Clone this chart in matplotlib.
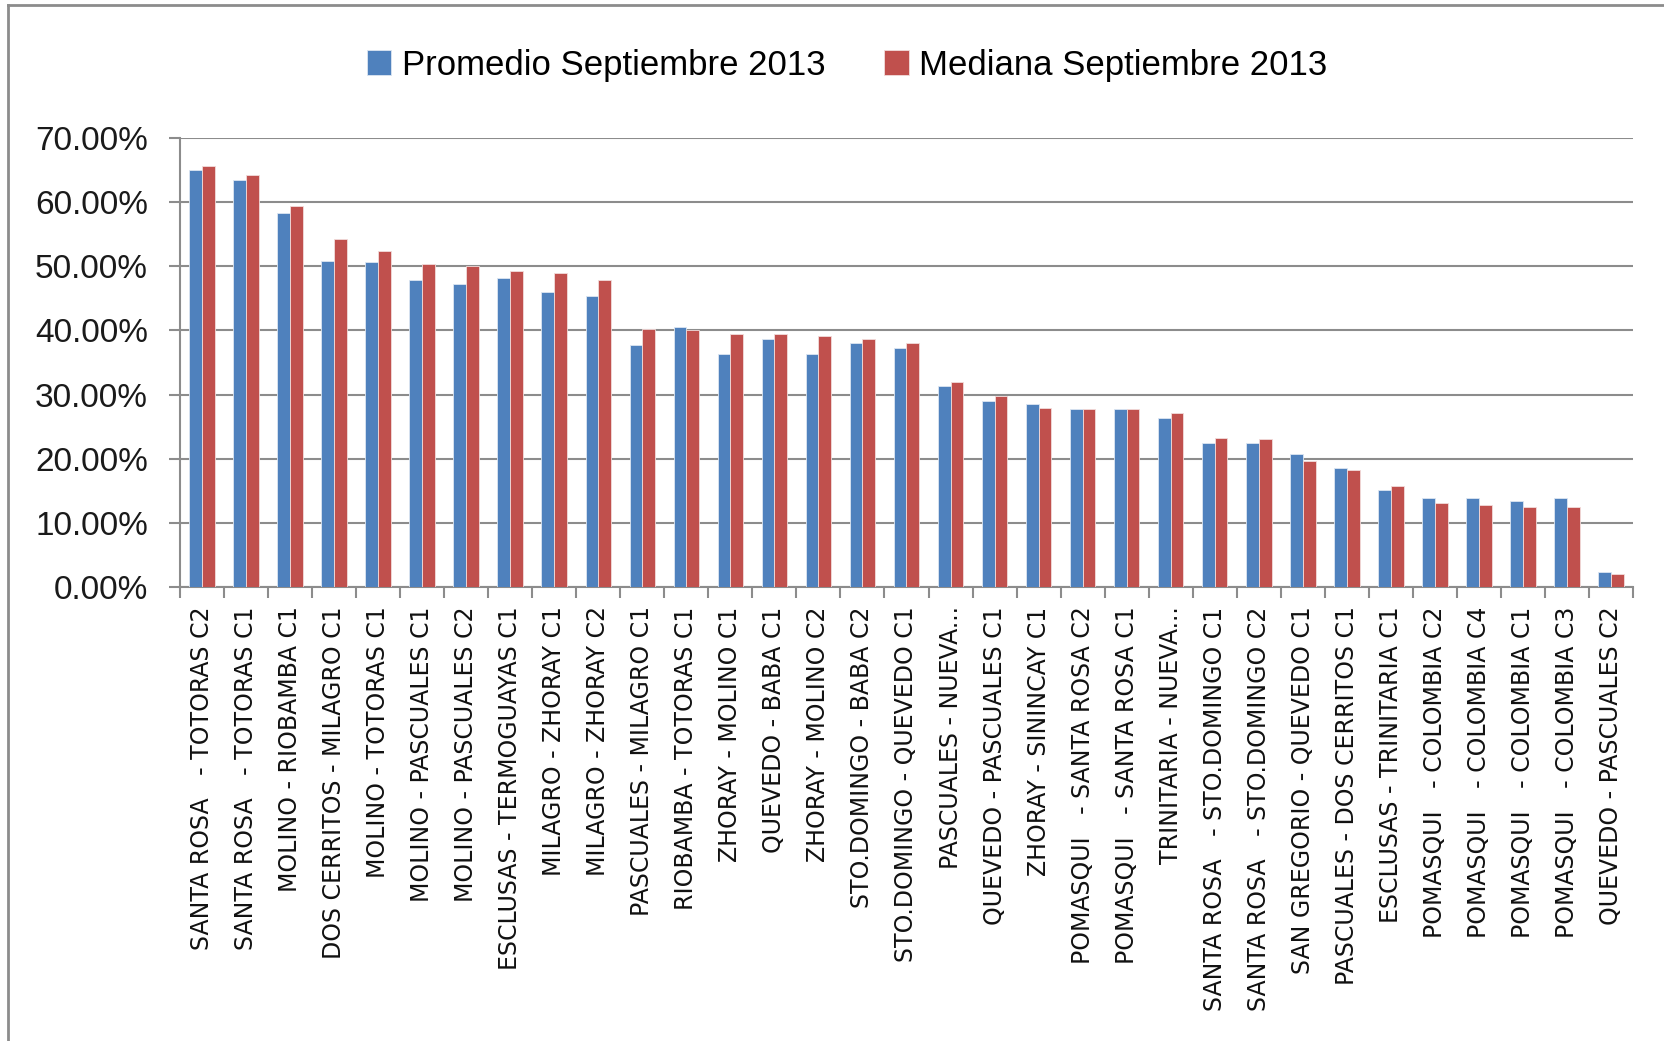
import matplotlib
matplotlib.use("Agg")
import matplotlib.pyplot as plt
import numpy as np
from matplotlib.lines import Line2D
from matplotlib.ticker import FuncFormatter, FixedLocator

categories = [
    "SANTA ROSA   - TOTORAS C2", "SANTA ROSA   - TOTORAS C1", "MOLINO - RIOBAMBA C1",
    "DOS CERRITOS - MILAGRO C1", "MOLINO - TOTORAS C1", "MOLINO - PASCUALES C1",
    "MOLINO - PASCUALES C2", "ESCLUSAS - TERMOGUAYAS C1", "MILAGRO - ZHORAY C1",
    "MILAGRO - ZHORAY C2", "PASCUALES - MILAGRO C1", "RIOBAMBA - TOTORAS C1",
    "ZHORAY - MOLINO C1", "QUEVEDO - BABA C1", "ZHORAY - MOLINO C2",
    "STO.DOMINGO - BABA C2", "STO.DOMINGO - QUEVEDO C1", "PASCUALES - NUEVA...",
    "QUEVEDO - PASCUALES C1", "ZHORAY - SININCAY C1", "POMASQUI   - SANTA ROSA C2",
    "POMASQUI   - SANTA ROSA C1", "TRINITARIA - NUEVA...", "SANTA ROSA   - STO.DOMINGO C1",
    "SANTA ROSA   - STO.DOMINGO C2", "SAN GREGORIO - QUEVEDO C1", "PASCUALES - DOS CERRITOS C1",
    "ESCLUSAS - TRINITARIA C1", "POMASQUI   - COLOMBIA C2", "POMASQUI   - COLOMBIA C4",
    "POMASQUI   - COLOMBIA C1", "POMASQUI   - COLOMBIA C3", "QUEVEDO - PASCUALES C2",
]
promedio = [65.0, 63.4, 58.3, 50.9, 50.6, 47.8, 47.3, 48.2, 46.0, 45.4,
            37.8, 40.5, 36.3, 38.7, 36.3, 38.0, 37.2, 31.3, 29.0, 28.5,
            27.7, 27.8, 26.4, 22.4, 22.4, 20.7, 18.5, 15.1, 13.9, 13.9,
            13.4, 13.9, 2.3]
mediana = [65.6, 64.2, 59.4, 54.3, 52.4, 50.3, 50.0, 49.2, 48.9, 47.8,
           40.3, 40.0, 39.4, 39.4, 39.1, 38.6, 38.0, 31.9, 29.7, 27.9,
           27.7, 27.8, 27.2, 23.2, 23.0, 19.6, 18.2, 15.7, 13.1, 12.8,
           12.5, 12.5, 2.0]
yticks = [0, 10, 20, 30, 40, 50, 60, 70]
series_names = ["Promedio Septiembre 2013", "Mediana Septiembre 2013"]

W, H = 1665, 1041
fig = plt.figure(figsize=(W / 100, H / 100), dpi=100)
L, R, T, B = 180, 1633, 138, 587
ax = fig.add_axes([L / W, 1 - B / H, (R - L) / W, (B - T) / H])

n = len(categories)
x = np.arange(n)
bw = 0.29
blue = "#4F81BD"
red = "#C0504D"
b1 = ax.bar(x - bw / 2, promedio, bw, color=blue, edgecolor="#DCE6F2", linewidth=0.6, zorder=3)
b2 = ax.bar(x + bw / 2, mediana, bw, color=red, edgecolor="#F2DCDB", linewidth=0.6, zorder=3)

ax.set_xlim(-0.5, n - 0.5)
ax.set_ylim(0, 70)
ax.set_yticks(yticks)
ax.yaxis.set_major_formatter(FuncFormatter(lambda v, p: f"{v:.2f}%"))
ax.grid(axis="y", color="#8C8C8C", linewidth=1.5, zorder=0)
for s in ["top", "right"]:
    ax.spines[s].set_visible(False)
for s in ["left", "bottom"]:
    ax.spines[s].set_color("#8C8C8C")
    ax.spines[s].set_linewidth(1.5)

ax.set_xticks(x)
ax.set_xticklabels(categories, rotation=90, va="top")
for lab in ax.get_xticklabels():
    lab.set_fontfamily("DejaVu Sans")
    lab.set_fontsize(17)
    lab.set_color("#111111")
ax.xaxis.set_minor_locator(FixedLocator(np.arange(-0.5, n, 1.0)))
ax.tick_params(axis="x", which="major", length=0, pad=14)
ax.tick_params(axis="x", which="minor", length=8, width=1.5, color="#8C8C8C", direction="out")
ax.tick_params(axis="y", length=8, width=1.5, color="#8C8C8C", direction="out", pad=15)
for lab in ax.get_yticklabels():
    lab.set_fontsize(24)
    lab.set_fontfamily("Liberation Sans")
    lab.set_color("#1A1A1A")

leg = fig.legend([b1, b2], series_names, loc="center", bbox_to_anchor=(847 / W, 1 - 65 / H),
                 ncol=2, frameon=False, prop={"family": "Liberation Sans", "size": 25},
                 handlelength=0.7, handleheight=0.7, handletextpad=0.3, columnspacing=1.7)

# outer chart border (left and top visible)
fig.add_artist(Line2D([8 / W, 8 / W], [0, 1 - 5 / H], color="#8C8C8C", linewidth=2, transform=fig.transFigure))
fig.add_artist(Line2D([8 / W, 1], [1 - 5 / H, 1 - 5 / H], color="#8C8C8C", linewidth=2, transform=fig.transFigure))

fig.savefig("out.png", dpi=100)
